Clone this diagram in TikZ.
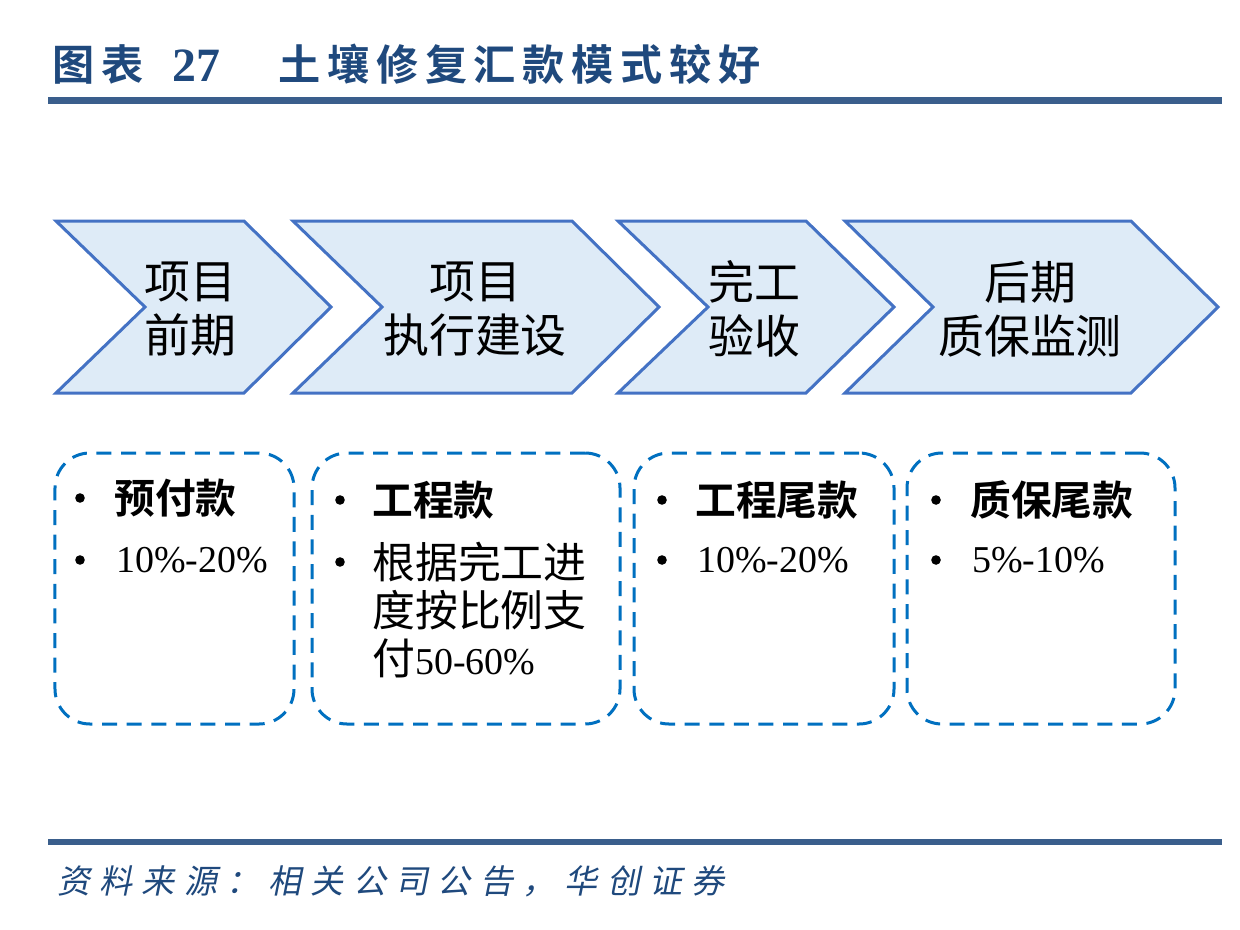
\documentclass[tikz,border=0pt]{standalone}
\usepackage{fontspec}
\setmainfont{Liberation Serif}
\newfontfamily\cjk[BoldFont={Noto Sans CJK SC Bold}]{Noto Sans CJK SC}
\newfontfamily\cjkhead[LetterSpace=16]{Noto Sans CJK SC Bold}
\newfontfamily\cjkfoot[LetterSpace=28,FakeSlant=0.2]{Noto Sans CJK SC}
\definecolor{titleblue}{RGB}{31,73,125}
\definecolor{rulebar}{RGB}{58,94,140}
\definecolor{chevfill}{RGB}{222,235,247}
\definecolor{chevline}{RGB}{68,114,196}
\definecolor{dashblue}{RGB}{0,112,192}
\newcommand\numtxt[1]{{\rmfamily\fontsize{27}{34}\selectfont #1}}

\begin{document}
\begin{tikzpicture}[x=0.25mm, y=-0.25mm,
    chev/.style={draw=chevline, fill=chevfill, line width=0.75mm},
    stage/.style={font=\cjk\fontsize{32.7}{38.4}\selectfont, align=center, inner sep=0},
    paybox/.style={draw=dashblue, line width=0.75mm, rounded corners=8.75mm,
        dash pattern=on 3.75mm off 2.4mm, inner sep=0},
    dot/.style={circle, fill=black, minimum size=2.4mm, inner sep=0},
    head/.style={font=\cjk\bfseries\fontsize{29}{34}\selectfont, anchor=west, inner sep=0},
    item/.style={font=\cjk\fontsize{30.5}{34.1}\selectfont, anchor=west, inner sep=0, align=left},
    title/.style={font=\cjkhead\fontsize{30}{36}\selectfont, text=titleblue, anchor=west, inner sep=0}]
    \fill[white] (0,0) rectangle (1240,930);
    \useasboundingbox (0,0) rectangle (1240,930);

    % header
    \node[title] (figlabel) at (52,64) {图表};
    \node[title, font=\rmfamily\bfseries\fontsize{34}{40}\selectfont] (fignum) at (172,66) {27};
    \node[title] (figtitle) at (278,64) {土壤修复汇款模式较好};
    \fill[rulebar] (48,97) rectangle (1222,104);

    % stages
    \draw[chev] (56,221) -- (244,221) -- (331,307) -- (244,393) -- (56,393) -- (145,307) -- cycle;
    \node[stage] (early) at (190,309) {项目\\前期};
    \draw[chev] (293,221) -- (572,221) -- (659,307) -- (572,393) -- (293,393) -- (382,307) -- cycle;
    \node[stage] (build) at (475,309) {项目\\执行建设};
    \draw[chev] (618,221) -- (806,221) -- (894,307) -- (806,393) -- (618,393) -- (708,307) -- cycle;
    \node[stage] (accept) at (754,309) {完工\\验收};
    \draw[chev] (845,221) -- (1131,221) -- (1218,307) -- (1131,393) -- (845,393) -- (933,307) -- cycle;
    \node[stage] (warranty) at (1030,309) {后期\\质保监测};

    % payments
    \node[paybox, minimum width=59.75mm, minimum height=67.75mm] (advance) at (174.5,588.5) {};
    \node[dot] (advdot1) at (80,498) {};
    \node[head] (advhead) at (114,498) {预付款};
    \node[dot] (advdot2) at (80,560) {};
    \node[item] (advitem) at (116,560) {\numtxt{10\%-20\%}};

    \node[paybox, minimum width=77mm, minimum height=67.75mm] (progress) at (466,588.5) {};
    \node[dot] (prodot1) at (340,500) {};
    \node[head] (prohead) at (372,500) {工程款};
    \node[dot] (prodot2) at (340,562) {};
    \node[item] (proitem) at (372,610) {根据完工进\\度按比例支\\付\numtxt{50-60\%}};

    \node[paybox, minimum width=65mm, minimum height=67.75mm] (final) at (764,588.5) {};
    \node[dot] (findot1) at (662,500) {};
    \node[head] (finhead) at (695,500) {工程尾款};
    \node[dot] (findot2) at (662,560) {};
    \node[item] (finitem) at (697,560) {\numtxt{10\%-20\%}};

    \node[paybox, minimum width=67mm, minimum height=67.75mm] (retain) at (1041,588.5) {};
    \node[dot] (retdot1) at (936,500) {};
    \node[head] (rethead) at (970,500) {质保尾款};
    \node[dot] (retdot2) at (936,560) {};
    \node[item] (retitem) at (972,560) {\numtxt{5\%-10\%}};

    % footer
    \fill[rulebar] (48,839) rectangle (1222,845);
    \node[anchor=west, inner sep=0, text=titleblue, font=\cjkfoot\fontsize{23.5}{28}\selectfont]
        (source) at (57,881) {资料来源：相关公司公告，华创证券};
\end{tikzpicture}
\end{document}
